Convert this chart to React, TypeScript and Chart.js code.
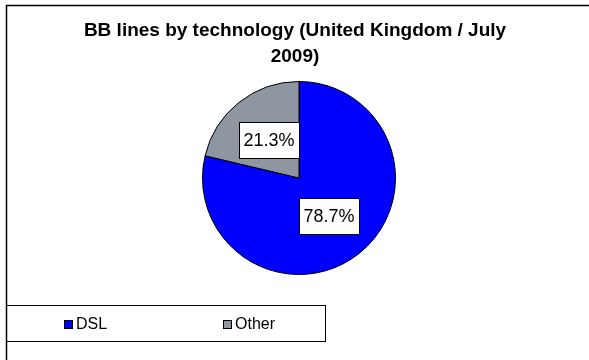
import React, { useEffect, useRef } from "react";
import { Chart, registerables } from "chart.js";

Chart.register(...registerables);

const titleLines = ["BB lines by technology (United Kingdom / July", "2009)"];
const categories = ["DSL", "Other"];
const shares = [78.7, 21.3];
const sliceColors = ["#0000FF", "#8E97A1"];

const FONT = '"Liberation Sans", Arial, sans-serif';

const decorPlugin = {
  id: "decor",
  beforeDraw(chart: any) {
    const ctx = chart.ctx;
    ctx.save();
    ctx.fillStyle = "#ffffff";
    ctx.fillRect(0, 0, chart.width, chart.height);
    ctx.restore();
  },
  afterDraw(chart: any) {
    const ctx = chart.ctx;
    ctx.save();
    // outer frame (extends beyond the canvas on right/bottom)
    ctx.strokeStyle = "#000000";
    ctx.lineWidth = 1.5;
    ctx.beginPath();
    ctx.moveTo(6.5, chart.height + 5);
    ctx.lineTo(6.5, 5.5);
    ctx.lineTo(chart.width + 5, 5.5);
    ctx.stroke();

    // title
    ctx.fillStyle = "#000000";
    ctx.font = `bold 19px ${FONT}`;
    ctx.textAlign = "center";
    ctx.textBaseline = "middle";
    ctx.fillText(titleLines[0], 295, 31);
    ctx.fillText(titleLines[1], 295, 57);

    // value labels on slices
    const meta = chart.getDatasetMeta(0);
    const ds = chart.data.datasets[0];
    ctx.font = `18px ${FONT}`;
    meta.data.forEach((arc: any, i: number) => {
      const p = arc.tooltipPosition();
      const txt = ds.data[i].toFixed(1) + "%";
      const w = 60;
      const h = 36;
      const x = Math.round(p.x - w / 2) + 0.5;
      const y = Math.round(p.y - h / 2) + 0.5;
      ctx.fillStyle = "#ffffff";
      ctx.fillRect(x, y, w, h);
      ctx.strokeStyle = "#000000";
      ctx.lineWidth = 1;
      ctx.strokeRect(x, y, w, h);
      ctx.fillStyle = "#000000";
      ctx.textAlign = "center";
      ctx.textBaseline = "middle";
      ctx.fillText(txt, p.x, p.y + 1);
    });

    // legend box
    const lx = 6.5, ly = 305.5, lw = 319, lh = 36;
    ctx.strokeStyle = "#000000";
    ctx.lineWidth = 1;
    ctx.strokeRect(lx, ly, lw, lh);
    const itemX = [64, 223];
    ctx.font = `16px ${FONT}`;
    ctx.textAlign = "left";
    ctx.textBaseline = "middle";
    chart.data.labels.forEach((lab: string, i: number) => {
      const sx = itemX[i];
      const sy = Math.round(ly + lh / 2 - 4) + 0.5;
      ctx.fillStyle = ds.backgroundColor[i];
      ctx.fillRect(sx + 0.5, sy, 8, 8);
      ctx.strokeStyle = "#000000";
      ctx.strokeRect(sx + 0.5, sy, 8, 8);
      ctx.fillStyle = "#000000";
      ctx.fillText(lab, sx + 12, ly + lh / 2 + 1);
    });
    ctx.restore();
  },
};

export default function App() {
  const ref = useRef<HTMLCanvasElement | null>(null);
  useEffect(() => {
    if (!ref.current) return;
    const chart = new Chart(ref.current, {
      type: "pie",
      data: {
        labels: categories,
        datasets: [
          {
            data: shares,
            backgroundColor: sliceColors,
            borderColor: "#000000",
            borderWidth: 1,
          },
        ],
      },
      options: {
        responsive: false,
        animation: false,
        layout: { padding: { left: 202, right: 193, top: 81, bottom: 85 } },
        plugins: {
          legend: { display: false },
          title: { display: false },
          tooltip: { enabled: false },
        },
      },
      plugins: [decorPlugin],
    });
    return () => chart.destroy();
  }, []);
  return (
    <div style={{ position: "absolute", left: 0, top: 0, width: 589, height: 360 }}>
      <canvas ref={ref} width={589} height={360} style={{ display: "block" }} />
    </div>
  );
}
